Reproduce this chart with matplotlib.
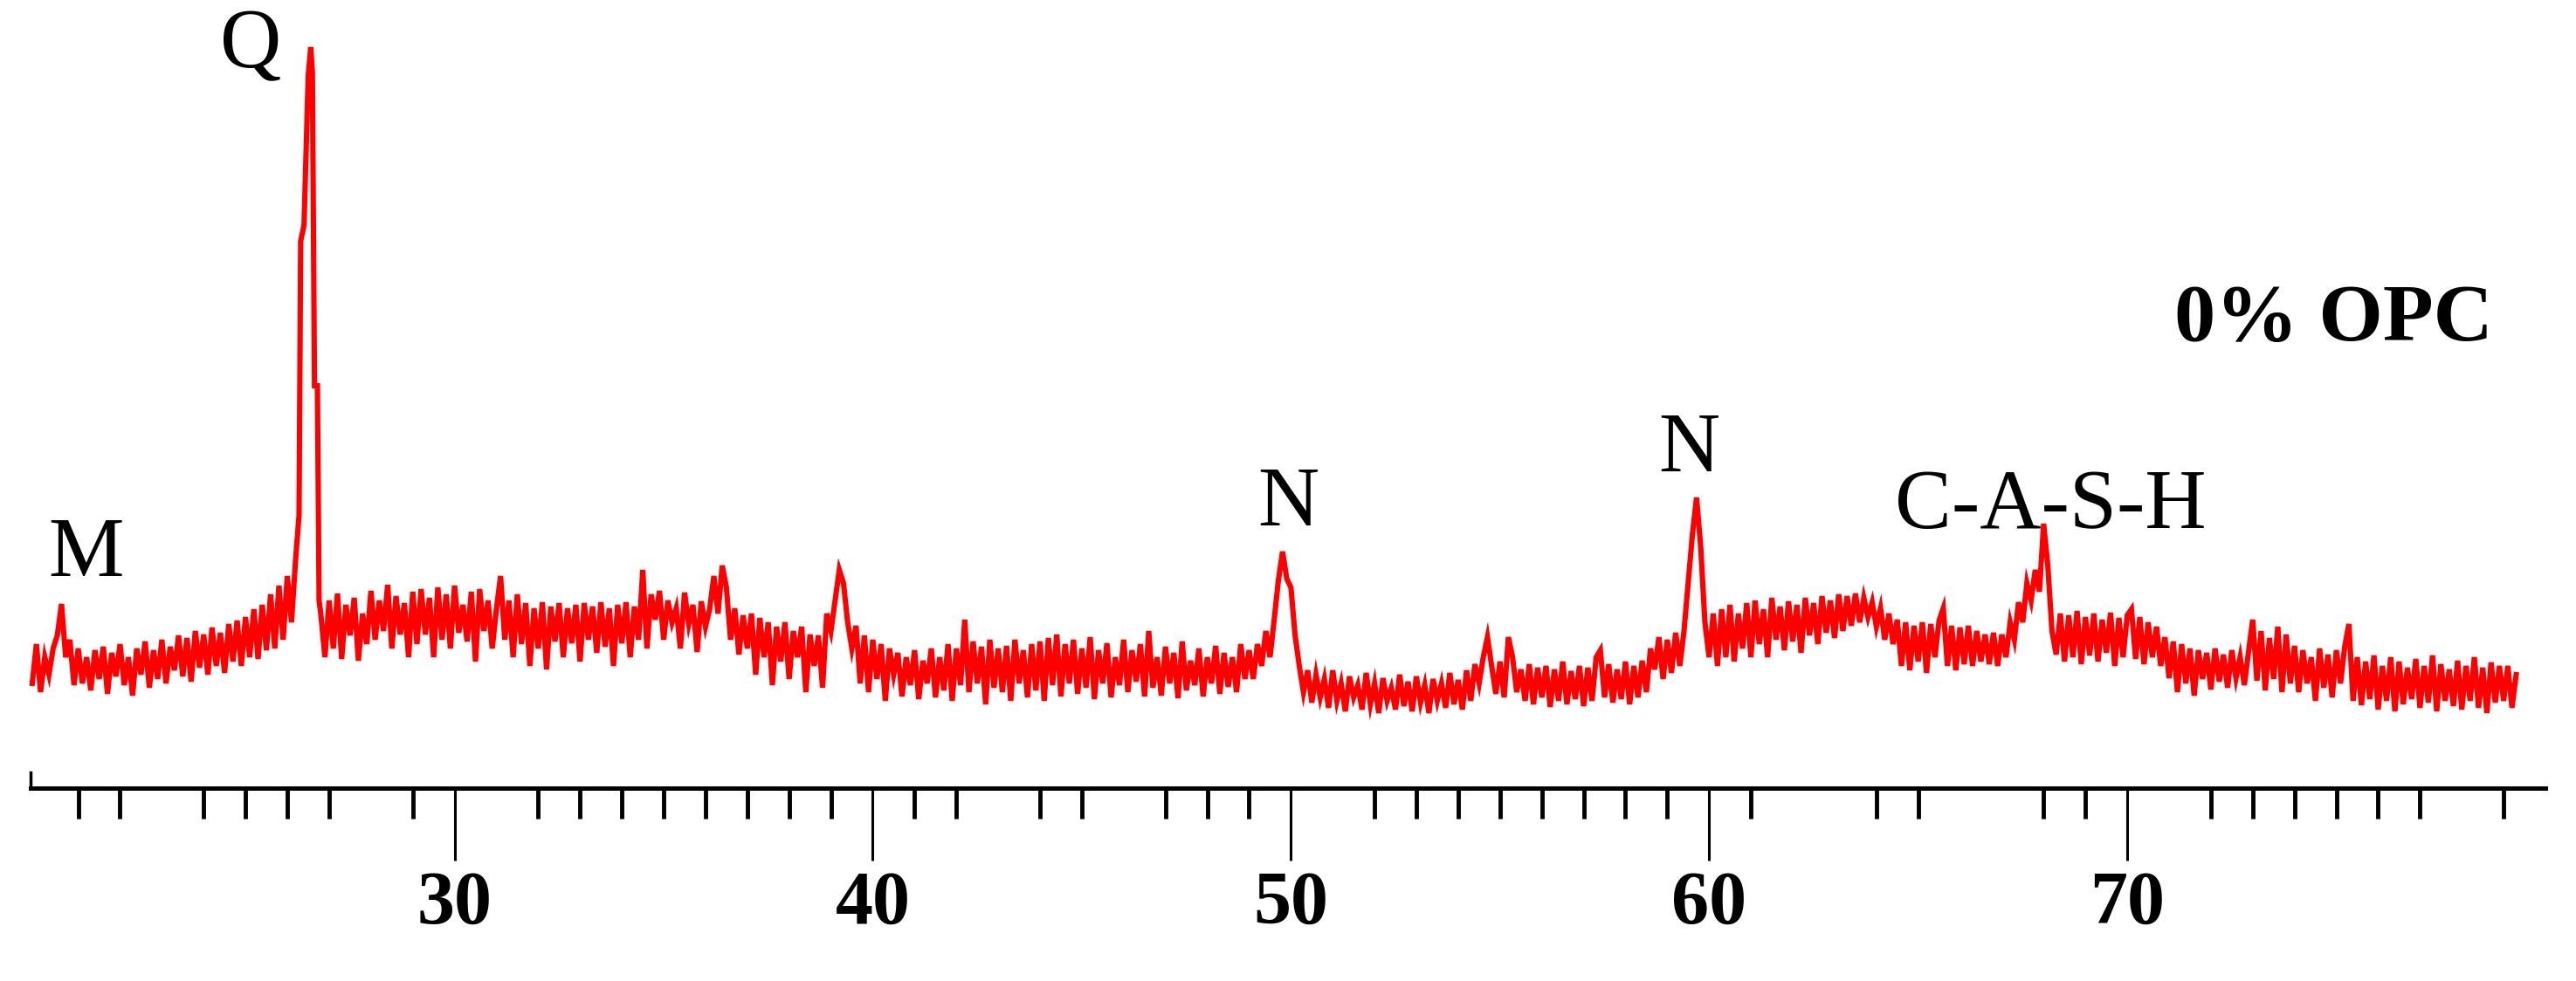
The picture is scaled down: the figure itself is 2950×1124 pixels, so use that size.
import numpy as np
from matplotlib import pyplot as plt
from matplotlib.ticker import FixedLocator

plt.rcParams['font.family'] = ['Liberation Serif', 'DejaVu Serif']

#%% data (intensity in arbitrary units, 0 = axis line)
two_theta_grid = np.round(np.arange(19.9, 79.35, 0.1), 2)

intensity_rows = [
    [120],                                                   # 19.9
    [165, 110, 150, 130, 160, 175, 211, 150, 170, 118],      # 20
    [160, 120, 150, 112, 158, 125, 162, 108, 155, 128],      # 21
    [165, 118, 150, 106, 160, 130, 168, 115, 158, 125],      # 22
    [170, 120, 162, 135, 175, 128, 172, 122, 180, 138],      # 23
    [176, 130, 184, 140, 178, 132, 188, 145, 192, 140],      # 24
    [196, 150, 205, 148, 210, 158, 222, 160, 232, 170],      # 25
    [243, 190, 263, 255, 240, 230, 220, 210, 200, 150],      # 26 (peak part replaced below)
    [215, 160, 223, 148, 210, 175, 218, 146, 200, 165],      # 27
    [226, 170, 215, 180, 233, 160, 220, 176, 212, 150],      # 28
    [225, 165, 228, 176, 218, 150, 230, 170, 222, 160],      # 29
    [232, 178, 210, 168, 225, 145, 228, 180, 215, 160],      # 30
    [205, 243, 170, 215, 150, 222, 165, 212, 140, 206],      # 31
    [160, 213, 136, 208, 168, 212, 150, 206, 166, 210],      # 32
    [145, 212, 170, 208, 155, 213, 162, 206, 140, 210],      # 33
    [166, 213, 150, 208, 170, 250, 160, 222, 193, 226],      # 34
    [170, 215, 190, 206, 160, 224, 188, 210, 156, 214],      # 35
    [185, 205, 243, 200, 255, 230, 170, 206, 153, 198],      # 36
    [160, 200, 130, 195, 150, 190, 118, 185, 145, 190],      # 37
    [125, 180, 150, 185, 110, 176, 140, 175, 115, 200],      # 38
    [180, 215, 250, 235, 190, 160, 186, 120, 175, 110],      # 39
    [170, 125, 165, 100, 160, 130, 155, 105, 150, 118],      # 40
    [158, 102, 146, 120, 160, 104, 150, 112, 165, 100],      # 41
    [160, 118, 193, 110, 168, 120, 162, 96, 170, 115],       # 42
    [160, 110, 163, 100, 170, 120, 158, 104, 165, 112],      # 43
    [168, 100, 172, 118, 176, 105, 165, 120, 170, 108],      # 44
    [160, 115, 173, 102, 158, 120, 166, 104, 150, 118],      # 45
    [170, 110, 158, 122, 165, 105, 180, 115, 150, 106],      # 46
    [162, 120, 155, 103, 168, 112, 146, 118, 160, 105],      # 47
    [150, 120, 163, 108, 155, 116, 150, 110, 165, 125],      # 48
    [158, 125, 165, 140, 180, 150, 193, 238, 271, 240],      # 49
    [230, 175, 140, 110, 135, 98, 130, 104, 125, 92],        # 50
    [135, 100, 120, 88, 128, 104, 118, 90, 132, 96],         # 51
    [120, 86, 126, 100, 115, 90, 130, 94, 122, 88],          # 52
    [128, 98, 118, 86, 125, 100, 120, 92, 132, 96],          # 53
    [124, 90, 135, 100, 142, 120, 150, 173, 140, 108],       # 54
    [145, 104, 173, 150, 110, 136, 100, 142, 96, 138],       # 55
    [104, 140, 93, 136, 100, 145, 96, 134, 102, 140],        # 56
    [94, 138, 100, 150, 158, 104, 142, 98, 136, 102],        # 57
    [145, 96, 140, 104, 146, 110, 160, 136, 173, 125],       # 58
    [170, 132, 178, 140, 180, 235, 290, 333, 276, 190],      # 59
    [150, 200, 140, 205, 150, 210, 145, 200, 160, 212],      # 60
    [150, 215, 165, 205, 150, 218, 170, 208, 158, 214],      # 61
    [168, 210, 155, 218, 175, 212, 165, 220, 178, 215],      # 62
    [172, 222, 180, 220, 186, 223, 190, 218, 196, 213],      # 63
    [185, 206, 170, 200, 165, 193, 140, 190, 135, 186],      # 64
    [145, 190, 132, 188, 150, 192, 206, 140, 186, 135],      # 65
    [184, 142, 186, 140, 180, 145, 176, 142, 178, 140],      # 66
    [176, 150, 190, 170, 213, 190, 235, 215, 250, 225],      # 67
    [303, 255, 180, 153, 200, 145, 198, 150, 203, 142],      # 68
    [196, 152, 200, 145, 193, 155, 201, 140, 195, 150],      # 69
    [198, 205, 148, 196, 142, 190, 150, 185, 140, 173],      # 70
    [126, 168, 110, 165, 120, 160, 106, 158, 125, 155],      # 71
    [113, 160, 122, 153, 115, 158, 126, 150, 118, 156],      # 72
    [193, 123, 180, 112, 172, 125, 185, 110, 176, 120],      # 73
    [163, 110, 158, 120, 150, 100, 160, 115, 153, 104],      # 74
    [158, 120, 162, 188, 100, 150, 95, 145, 102, 152],       # 75
    [90, 140, 100, 150, 88, 145, 96, 138, 102, 148],         # 76
    [92, 140, 98, 152, 88, 142, 100, 136, 94, 146],          # 77
    [90, 140, 100, 150, 92, 138, 86, 144, 98, 140],          # 78
    [100, 140, 92, 130],                                     # 79
]
intensity_grid = np.array([v for row in intensity_rows for v in row], dtype=float)

# quartz peak needs a finer step than the grid
q_theta = [26.28, 26.32, 26.40, 26.50, 26.56, 26.60, 26.65, 26.72, 26.76]
q_intensity = [312, 627, 645, 816, 849, 820, 461, 461, 215]

keep = (two_theta_grid <= 26.2) | (two_theta_grid >= 26.8)
two_theta = np.concatenate((two_theta_grid[keep], q_theta))
intensity = np.concatenate((intensity_grid[keep], q_intensity))
order = np.argsort(two_theta)
two_theta = two_theta[order]
intensity = intensity[order]

major_ticks = [30, 40, 50, 60, 70]
minor_ticks = [21, 22, 24, 25, 26, 27, 29, 32, 33, 34, 35, 36, 37, 38, 39,
               41, 42, 44, 45, 47, 48, 49, 52, 53, 54, 55, 56, 57, 58, 59,
               61, 64, 65, 68, 69, 72, 73, 74, 75, 76, 77, 79]

peak_labels = ['M', 'Q', 'N', 'N', 'C-A-S-H']
label_x = [21.18, 25.13, 49.94, 59.53, 68.17]
label_y = [243, 826, 301, 363, 298]

#%% figure
fig = plt.figure(figsize=(29.5, 11.24), dpi=100)
ax = fig.add_axes([35/2950, 1 - 903/1124, 2880/2950, 903/1124])

ax.plot(two_theta, intensity, color='#ff0000', lw=4.4, solid_joinstyle='miter',
        clip_on=False)

ax.set_xlim([19.86, 80.0])
ax.set_ylim([0, 903])

for side in ['top', 'right']:
    ax.spines[side].set_visible(False)
ax.spines['bottom'].set_linewidth(3.6)
ax.spines['left'].set_linewidth(2.5)
ax.spines['left'].set_bounds(0, 18)
ax.set_yticks([])

ax.xaxis.set_major_locator(FixedLocator(major_ticks))
ax.xaxis.set_minor_locator(FixedLocator(minor_ticks))
ax.tick_params(axis='x', which='major', length=60, width=2.2, pad=8,
               labelsize=62)
ax.tick_params(axis='x', which='minor', length=25, width=3.5)
for lab in ax.get_xticklabels():
    lab.set_fontweight('bold')

for k in np.arange(0, len(peak_labels)):
    ax.text(label_x[k], label_y[k], peak_labels[k], ha='center', va='baseline',
            fontsize=70)

ax.text(74.94, 513, '0% OPC', ha='center', va='baseline', fontsize=68,
        fontweight='bold')

plt.savefig('out.png', dpi=100)
